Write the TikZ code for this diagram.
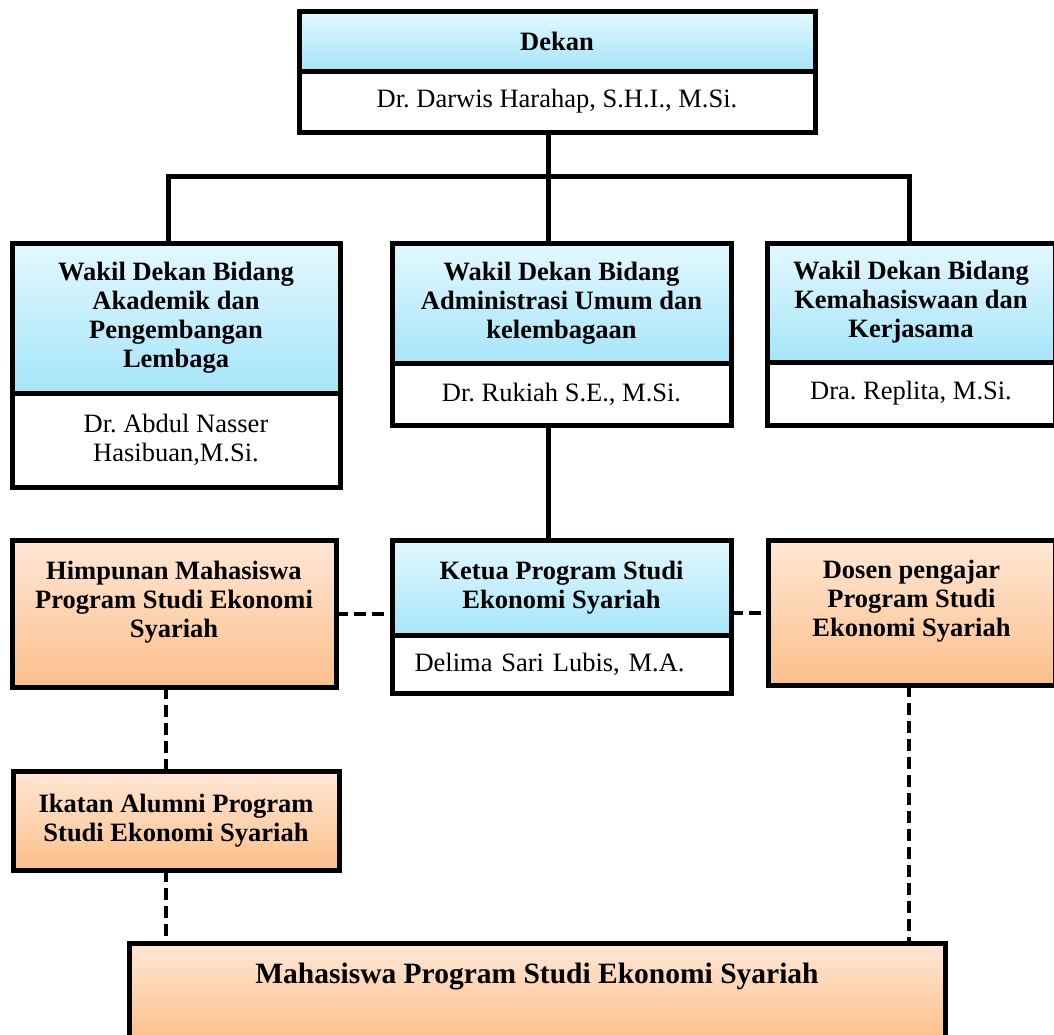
\documentclass[tikz,border=0pt]{standalone}
\usepackage{fontspec}
\setmainfont{Liberation Serif}
\frenchspacing
\definecolor{biruatas}{HTML}{E3F8FE}
\definecolor{birubawah}{HTML}{A6E5F9}
\definecolor{oranyeatas}{HTML}{FFE7D6}
\definecolor{oranyebawah}{HTML}{FCBF8B}
\def\hurufbesar{\fontsize{26.5}{29}\selectfont}
\tikzset{
  kotak/.style={draw, line width=5pt, rectangle, inner sep=0pt, outer sep=0pt, align=center, anchor=north west},
  kepala/.style={kotak, top color=biruatas, bottom color=birubawah, font=\hurufbesar\bfseries},
  pejabat/.style={kotak, fill=white, font=\hurufbesar},
  unit/.style={kotak, top color=oranyeatas, bottom color=oranyebawah, font=\hurufbesar\bfseries},
  garis/.style={line width=5pt},
  putus/.style={line width=4pt, dash pattern=on 12pt off 6pt},
}
% #1 options of the name box, #2 id, #3/#4 top left, #5 width, #6/#7 heights
\newcommand{\jabatan}[9][]{
  \node[kepala, minimum width=#5pt, minimum height=#6pt] (#2-head) at (#3,#4) {#8};
  \node[pejabat, minimum width=#5pt, minimum height=#7pt, anchor=north, #1] (#2-name) at (#2-head.south) {#9};
}

\begin{document}
\begin{tikzpicture}[x=1pt, y=-1pt]
\useasboundingbox (0,0) rectangle (1054,1034);

% pimpinan
\jabatan{dekan}{299}{11}{516}{60}{61}{Dekan}{Dr. Darwis Harahap, S.H.I., M.Si.}
\jabatan{wakilA}{12}{243}{328}{150}{94}{Wakil Dekan Bidang\\Akademik dan\\Pengembangan\\Lembaga}{Dr. Abdul Nasser\\Hasibuan,M.Si.}
\jabatan{wakilB}{392}{243}{339}{120}{62}{Wakil Dekan Bidang\\Administrasi Umum dan\\kelembagaan}{Dr. Rukiah S.E., M.Si.}
\jabatan{wakilC}{767}{243}{288}{119}{63}{Wakil Dekan Bidang\\Kemahasiswaan dan\\Kerjasama}{Dra. Replita, M.Si.}
\jabatan[text width=294pt, align=left]{ketua}{392}{540}{339}{95}{58}{Ketua Program Studi\\Ekonomi Syariah}{Delima Sari Lubis, M.A.}

% unit
\node[unit, minimum width=324pt, minimum height=147pt] (himpunan) at (12,540) {Himpunan Mahasiswa\\Program Studi Ekonomi\\Syariah\\\mbox{}};
\node[unit, minimum width=287pt, minimum height=145pt] (dosen) at (768,540) {Dosen pengajar\\Program Studi\\Ekonomi Syariah\\\mbox{}};
\node[unit, minimum width=326pt, minimum height=99pt] (ikatan) at (13,771) {Ikatan Alumni Program\\Studi Ekonomi Syariah};
\node[unit, minimum width=816pt, minimum height=97pt, font=\fontsize{29.5}{33}\selectfont\bfseries] (mahasiswa) at (129,943) {Mahasiswa Program Studi Ekonomi Syariah\\[4pt]\mbox{}};

% garis komando
\coordinate (cabang) at (548,176);
\coordinate (cabangA) at (168,176);
\coordinate (cabangC) at (909,176);
\draw[garis] (cabang |- dekan-name.south) -- (cabang) -- (cabang |- wakilB-head.north);
\draw[garis] (cabangA |- wakilA-head.north) -- (cabangA) -- (cabangC) -- (cabangC |- wakilC-head.north);
\draw[garis] (cabang |- wakilB-name.south) -- (cabang |- ketua-head.north);

% garis koordinasi
\coordinate (putusA) at (166,0);
\coordinate (putusC) at (909,0);
\draw[putus] (himpunan.east) -- (himpunan.east -| ketua-head.west);
\draw[putus] (ketua-head.east |- dosen.west) -- (dosen.west);
\foreach \atas/\bawah in {himpunan/ikatan, ikatan/mahasiswa}
  \draw[putus] (putusA |- \atas.south) -- (putusA |- \bawah.north);
\draw[putus] (putusC |- dosen.south) -- (putusC |- mahasiswa.north);
\end{tikzpicture}
\end{document}
